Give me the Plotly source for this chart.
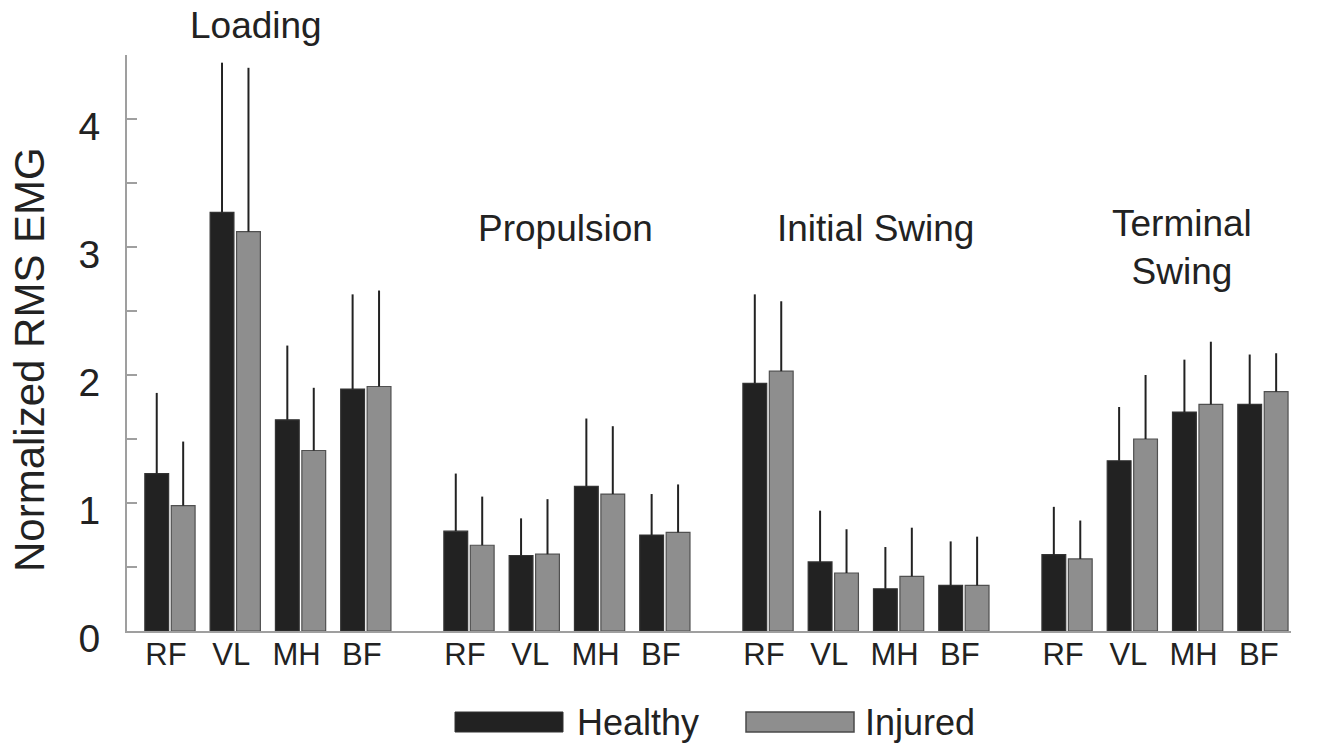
import plotly.graph_objects as go

# ---- data ----
phases = ["Loading", "Propulsion", "Initial Swing", "Terminal<br>Swing"]
muscles = ["RF", "VL", "MH", "BF"]

healthy_mean = [1.23, 3.27, 1.65, 1.89,
                0.78, 0.59, 1.13, 0.75,
                1.935, 0.54, 0.33, 0.356,
                0.596, 1.33, 1.71, 1.77]
healthy_sd = [0.63, 1.17, 0.58, 0.74,
              0.45, 0.29, 0.53, 0.32,
              0.695, 0.40, 0.326, 0.344,
              0.374, 0.42, 0.41, 0.39]
injured_mean = [0.98, 3.12, 1.41, 1.91,
                0.67, 0.60, 1.07, 0.77,
                2.03, 0.453, 0.427, 0.356,
                0.563, 1.50, 1.77, 1.87]
injured_sd = [0.50, 1.28, 0.49, 0.75,
              0.38, 0.43, 0.53, 0.375,
              0.546, 0.342, 0.38, 0.381,
              0.30, 0.50, 0.49, 0.30]

# ---- layout helpers ----
GROUP_STEP = 4.58
x_pos = [g * GROUP_STEP + m for g in range(len(phases)) for m in range(len(muscles))]
x_text = [m for _ in phases for m in muscles]

FONT = "Liberation Sans, Arial, Helvetica, sans-serif"
TXT = "#222222"
AXC = "#9f9f9f"

fig = go.Figure()
fig.add_trace(go.Bar(
    x=x_pos, y=healthy_mean, name="Healthy",
    marker=dict(color="#222222", line=dict(color="#333333", width=1.2)),
    error_y=dict(type="data", symmetric=False, array=healthy_sd,
                 arrayminus=[0] * len(healthy_sd),
                 color="#222222", thickness=2, width=0),
))
fig.add_trace(go.Bar(
    x=x_pos, y=injured_mean, name="Injured",
    marker=dict(color="#8e8e8e", line=dict(color="#505050", width=1.2)),
    error_y=dict(type="data", symmetric=False, array=injured_sd,
                 arrayminus=[0] * len(injured_sd),
                 color="#222222", thickness=2, width=0),
))

# target plot area in window px: x 127..1291, y 55..631 (body margin removed below)
W, H = 1328, 747
L, R, T, B = 127, W - 1291, 55, H - 631
pw, ph = W - L - R, H - T - B

def px_x(p):
    return (p - L) / pw

def px_y(p):
    return (H - B - p) / ph

annotations = []
phase_x = [1.32, 6.06, 10.81, 15.5]
phase_y = [px_y(25), px_y(228), px_y(228), px_y(247)]
for name, ax, ay in zip(phases, phase_x, phase_y):
    annotations.append(dict(x=ax, y=ay, xref="x", yref="paper", text=name,
                            showarrow=False, xanchor="center", yanchor="middle",
                            font=dict(family=FONT, size=37, color=TXT)))

annotations.append(dict(x=px_x(29), y=px_y(360), xref="paper", yref="paper",
                        text="Normalized RMS EMG", textangle=-90, showarrow=False,
                        xanchor="center", yanchor="middle",
                        font=dict(family=FONT, size=42, color=TXT)))

# legend drawn as wide swatches
shapes = [
    dict(type="rect", xref="paper", yref="paper",
         x0=px_x(455), x1=px_x(563), y0=px_y(732), y1=px_y(712),
         fillcolor="#222222", line=dict(color="#333333", width=1)),
    dict(type="rect", xref="paper", yref="paper",
         x0=px_x(746), x1=px_x(854), y0=px_y(732), y1=px_y(712),
         fillcolor="#8e8e8e", line=dict(color="#4a4a4a", width=1.5)),
]
annotations.append(dict(x=px_x(575), y=px_y(722), xref="paper", yref="paper",
                        text="Healthy", showarrow=False, xanchor="left", yanchor="middle",
                        font=dict(family=FONT, size=36, color=TXT)))
annotations.append(dict(x=px_x(863), y=px_y(722), xref="paper", yref="paper",
                        text="Injured", showarrow=False, xanchor="left", yanchor="middle",
                        font=dict(family=FONT, size=36, color=TXT)))

fig.update_layout(
    width=W, height=H,
    margin=dict(l=L, r=R, t=T, b=B, autoexpand=False),
    paper_bgcolor="white", plot_bgcolor="white",
    barmode="group", bargap=0.19, bargroupgap=0.1,
    showlegend=False,
    font=dict(family=FONT, color=TXT),
    annotations=annotations,
    shapes=shapes,
    xaxis=dict(range=[-0.658, 17.17], tickmode="array", tickvals=x_pos, ticktext=x_text,
               showgrid=False, zeroline=False, showline=True, linecolor=AXC, linewidth=2,
               ticks="", ticklabelstandoff=-5, ticklabelshift=-4,
               tickfont=dict(family=FONT, size=31, color=TXT)),
    yaxis=dict(range=[0, 4.5], tickmode="array", tickvals=[0, 1, 2, 3, 4],
               showgrid=False, zeroline=False, showline=True, linecolor=AXC, linewidth=2,
               ticks="inside", ticklen=10, tickwidth=1.5, tickcolor=AXC,
               minor=dict(tickmode="array", tickvals=[0.5, 1.5, 2.5, 3.5, 4.5],
                          ticks="inside", ticklen=10, tickwidth=1.5, tickcolor=AXC),
               ticklabelstandoff=17, ticklabelshift=7,
               tickfont=dict(family=FONT, size=39, color=TXT)),
)

fig.write_html("out.html",
               config={"displayModeBar": False, "staticPlot": True},
               post_script="document.body.style.margin='0px';document.body.style.overflow='hidden';")
